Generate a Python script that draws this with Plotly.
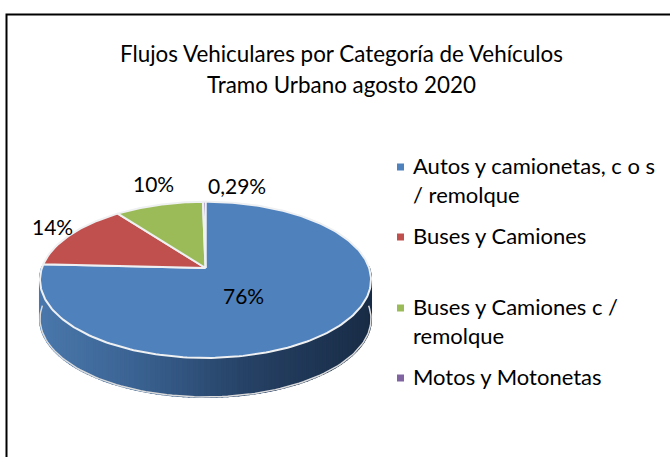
import math
import plotly.graph_objects as go

categories = ["Autos y camionetas, c o s<br>/ remolque", "Buses y Camiones",
              "Buses y Camiones c /<br>remolque", "Motos y Motonetas"]
values = [76, 14, 10, 0.29]
value_labels = ["76%", "14%", "10%", "0,29%"]
colors = ["#4f81bd", "#c0504d", "#9bbb59", "#8064a2"]
title_lines = ["Flujos Vehiculares por Categoría de Vehículos", "Tramo Urbano agosto 2020"]
FONT = "Lato"

CX, CY, A, B, K, DEPTH = 205.5, 268.0, 163.6, 76.3, 0.1515, 39.0
label_pos = [(243, 295), (52, 226), (153, 183), (237, 185)]
legend_y = [167, 237, 308, 378]


def rim(theta, dy=0.0):
    u, v = math.sin(theta), math.cos(theta)
    w = 1 + K * v
    return CX + A * u / w, CY - B * v / w + dy


def lerp_color(t):
    stops = [(0.0, (74, 120, 172)), (0.3, (58, 98, 145)), (0.62, (38, 66, 102)), (1.0, (25, 44, 70))]
    for (t0, c0), (t1, c1) in zip(stops, stops[1:]):
        if t <= t1:
            f = (t - t0) / (t1 - t0)
            c = [round(a + (b - a) * f) for a, b in zip(c0, c1)]
            return f"rgb({c[0]},{c[1]},{c[2]})"
    return "rgb(25,44,70)"


fig = go.Figure()

# side wall: the visible lower half of the disc edge, as thin shaded strips
N = 110
start, end = math.radians(271), math.radians(89)
thetas = [start - (start - end) * i / N for i in range(N + 1)]
for t0, t1 in zip(thetas, thetas[1:]):
    p0, p1 = rim(t0), rim(t1)
    q0, q1 = rim(t0, DEPTH), rim(t1, DEPTH)
    shade = lerp_color(min(1, max(0, ((p0[0] + p1[0]) / 2 - 40) / 331)))
    fig.add_trace(go.Scatter(x=[p0[0], p1[0], q1[0], q0[0], p0[0]], y=[p0[1], p1[1], q1[1], q0[1], p0[1]],
                             mode="lines", fill="toself", fillcolor=shade, line=dict(color=shade, width=2),
                             hoverinfo="skip", showlegend=False))
outline = [rim(t, DEPTH) for t in thetas]
fig.add_trace(go.Scatter(x=[p[0] for p in outline], y=[p[1] for p in outline], mode="lines",
                         line=dict(color="#dcdcdc", width=1.5), hoverinfo="skip", showlegend=False))

# top face wedges, clockwise from twelve o'clock
total = sum(values)
acc = 0.0
for val, col in zip(values, colors):
    a0 = 2 * math.pi * acc / total
    acc += val
    a1 = 2 * math.pi * acc / total
    steps = max(2, int(val * 3))
    pts = [(CX, CY)] + [rim(a0 + (a1 - a0) * i / steps) for i in range(steps + 1)] + [(CX, CY)]
    fig.add_trace(go.Scatter(x=[p[0] for p in pts], y=[p[1] for p in pts], mode="lines", fill="toself",
                             fillcolor=col, line=dict(color="#eef0f2", width=2),
                             hoverinfo="skip", showlegend=False))

# legend entries
fig.add_trace(go.Scatter(x=[400.5] * 4, y=legend_y, mode="markers", hoverinfo="skip", showlegend=False,
                         marker=dict(symbol="square", size=7, color=colors)))
for name, y in zip(categories, legend_y):
    fig.add_annotation(x=412, y=y - 16, xref="x", yref="y", text=name, showarrow=False, align="left",
                       xanchor="left", yanchor="top", borderpad=0,
                       font=dict(family=FONT, size=22, color="#000"))

# data labels
for txt, (x, y) in zip(value_labels, label_pos):
    fig.add_annotation(x=x, y=y, xref="x", yref="y", text=txt, showarrow=False,
                       font=dict(family=FONT, size=21, color="#000"))

# title
for txt, y in zip(title_lines, (53, 84)):
    fig.add_annotation(x=341.5, y=y, xref="x", yref="y", text=txt, showarrow=False,
                       font=dict(family=FONT, size=22.4, color="#000"))

# chart frame: open on the right and at the bottom, where it leaves the picture
fig.add_shape(type="rect", xref="x", yref="y", x0=6.5, y0=14.5, x1=720, y1=520,
              line=dict(color="#000", width=2))

fig.update_layout(
    width=670, height=457, margin=dict(l=0, r=0, t=0, b=0),
    paper_bgcolor="white", plot_bgcolor="white", showlegend=False,
    xaxis=dict(range=[0, 670], visible=False, fixedrange=True),
    yaxis=dict(range=[457, 0], visible=False, fixedrange=True),
)
# the frame sits 6px from the window edge, so the page's own 8px margin has to go
fig.write_html("out.html", config={"displayModeBar": False},
               post_script="document.body.style.margin='0';")
